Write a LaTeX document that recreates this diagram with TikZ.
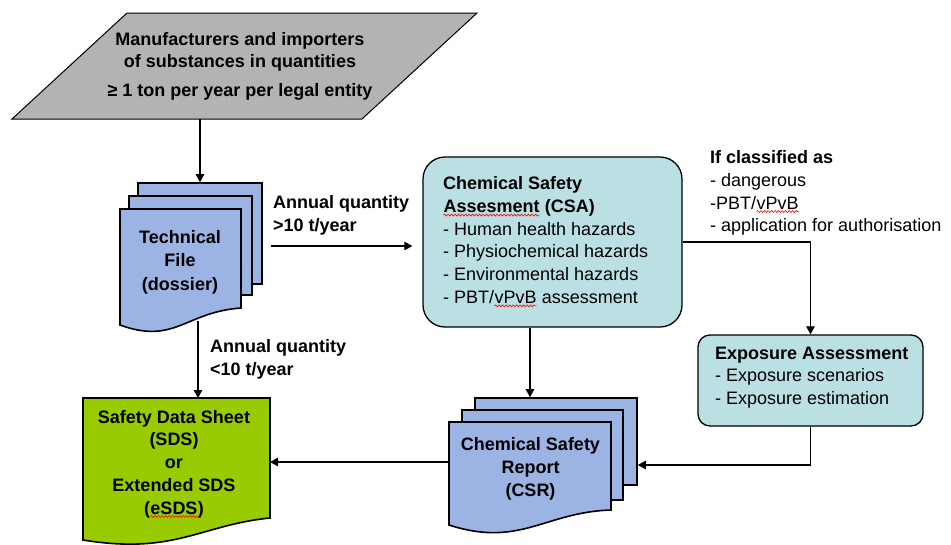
\documentclass[tikz,border=0pt]{standalone}
\usepackage{fontspec}
\setmainfont{Liberation Sans}
\usetikzlibrary{arrows.meta,decorations.pathmorphing}
\definecolor{pageblue}{HTML}{9CB4E4}
\definecolor{boxcyan}{HTML}{BBE0E3}
\definecolor{sdsgreen}{HTML}{99CC00}
\definecolor{mfrgray}{HTML}{B3B3B3}
\newcommand\redwave[1]{\tikz[baseline=(rw.base)]{\node[inner sep=0pt,outer sep=0pt,draw=none,fill=none] (rw) {#1};
  \draw[red, line width=0.6pt, decorate, decoration={snake, amplitude=1pt, segment length=3.5pt}] ([yshift=-2.5pt]rw.base west) -- ([yshift=-2.5pt]rw.base east);}}
\begin{document}
\begin{tikzpicture}[x=1pt,y=-1pt,
  txt/.style={font=\fontsize{18}{22.7}\selectfont, inner sep=0pt},
  btxt/.style={font=\fontsize{18}{22.7}\selectfont\bfseries, inner sep=0pt},
  pagerect/.style={draw=black, line width=1.6pt, fill=pageblue, inner sep=0pt},
  docshape/.style={draw=black, line width=1.6pt},
  anchorbox/.style={inner sep=0pt, outer sep=0pt},
  roundbox/.style={draw=black, line width=1.3pt, fill=boxcyan, inner sep=0pt},
  conn/.style={line width=1.1pt, -{Triangle[length=8pt,width=8.5pt]}}]
\useasboundingbox (0,0) rectangle (951,544);
\fill[white] (0,0) rectangle (951,544);

% manufacturers parallelogram
\draw[fill=mfrgray, line width=1pt] (127,13) -- (477,13) -- (362,119) -- (12,119) -- cycle;
\node[btxt, align=center] (mfr) at (240,66) {Manufacturers and importers\\ of substances in quantities\\[5.5pt] ≥ 1 ton per year per legal entity};
\coordinate (mfrb) at (200,119);

% technical file stack
\node[pagerect, minimum width=124pt, minimum height=101pt] (tfback) at (200,233.5) {};
\node[pagerect, minimum width=123pt, minimum height=99pt] (tfmid) at (190.5,245.5) {};
\node[anchorbox, minimum width=121pt, minimum height=99pt] (tf) at (180.5,258.5) {};
\draw[docshape, fill=pageblue] (tf.north west) -- (tf.north east) -- (tf.south east)
  .. controls (185,312) and (175,345) .. (120,325) -- cycle;
\node[btxt, align=center] (tftext) at (180,262) {Technical\\[0.8pt] File\\[0.8pt] (dossier)};
\coordinate (tfb) at (198,321);

% CSA
\node[roundbox, rounded corners=22pt, minimum width=259pt, minimum height=170pt] (csa) at (552.5,242) {};
\node[txt, align=left, anchor=west] (csatext) at (443,242) {\textbf{Chemical Safety}\\ \textbf{\redwave{Assesment} (CSA)}\\ - Human health hazards\\ - Physiochemical hazards\\ - Environmental hazards\\ - PBT/\redwave{vPvB} assessment};

% if classified
\node[txt, align=left, anchor=west] (ifcl) at (710,193) {\textbf{If classified as}\\ - dangerous\\ -PBT/\redwave{vPvB}\\ - application for authorisation};

% exposure assessment
\node[roundbox, rounded corners=12pt, minimum width=225pt, minimum height=91pt] (exp) at (810.5,380.5) {};
\node[txt, align=left, anchor=west] (exptext) at (715,377.4) {\textbf{Exposure Assessment}\\ - Exposure scenarios\\ - Exposure estimation};

% CSR stack
\node[pagerect, minimum width=162pt, minimum height=87pt] (csrback) at (556,441.5) {};
\node[pagerect, minimum width=161pt, minimum height=90pt] (csrmid) at (542.5,455) {};
\node[anchorbox, minimum width=162pt, minimum height=88pt] (csr) at (530,466) {};
\draw[docshape, fill=pageblue] (csr.north west) -- (csr.north east) -- (csr.south east)
  .. controls (545,512) and (520,548) .. (449,525) -- cycle;
\node[btxt, align=center] (csrtext) at (530.5,469) {Chemical Safety\\ Report\\ (CSR)};

% SDS
\node[anchorbox, minimum width=187pt, minimum height=120pt] (sds) at (176.5,458) {};
\draw[docshape, fill=sdsgreen] (sds.north west) -- (sds.north east) -- (sds.south east)
  .. controls (200,525) and (175,555) .. (83,540) -- cycle;
\node[btxt, align=center] (sdstext) at (174,464) {Safety Data Sheet\\ (SDS)\\ or\\ Extended SDS\\ (\redwave{eSDS})};

% labels
\node[btxt, align=left, anchor=west] (lblgt) at (273,215) {Annual quantity\\ >10 t/year};
\node[btxt, align=left, anchor=west] (lbllt) at (210,359) {Annual quantity\\ <10 t/year};

% connectors
\draw[conn] (mfrb) -- (tfback.north -| mfrb);
\draw[conn, shorten <=8pt, shorten >=10pt] (tfback.east |- 0,246) -- (csa.west |- 0,246);
\draw[conn] (csa.east) -| (exp.north);
\draw[conn] (exp.south) |- (csrback.east |- 0,465);
\draw[conn] (csa.south -| 530,0) -- (csrback.north -| 530,0);
\draw[conn] (csr.west |- 0,462) -- (sds.east |- 0,462);
\draw[conn] (tfb) -- (sds.north -| tfb);
\end{tikzpicture}
\end{document}
